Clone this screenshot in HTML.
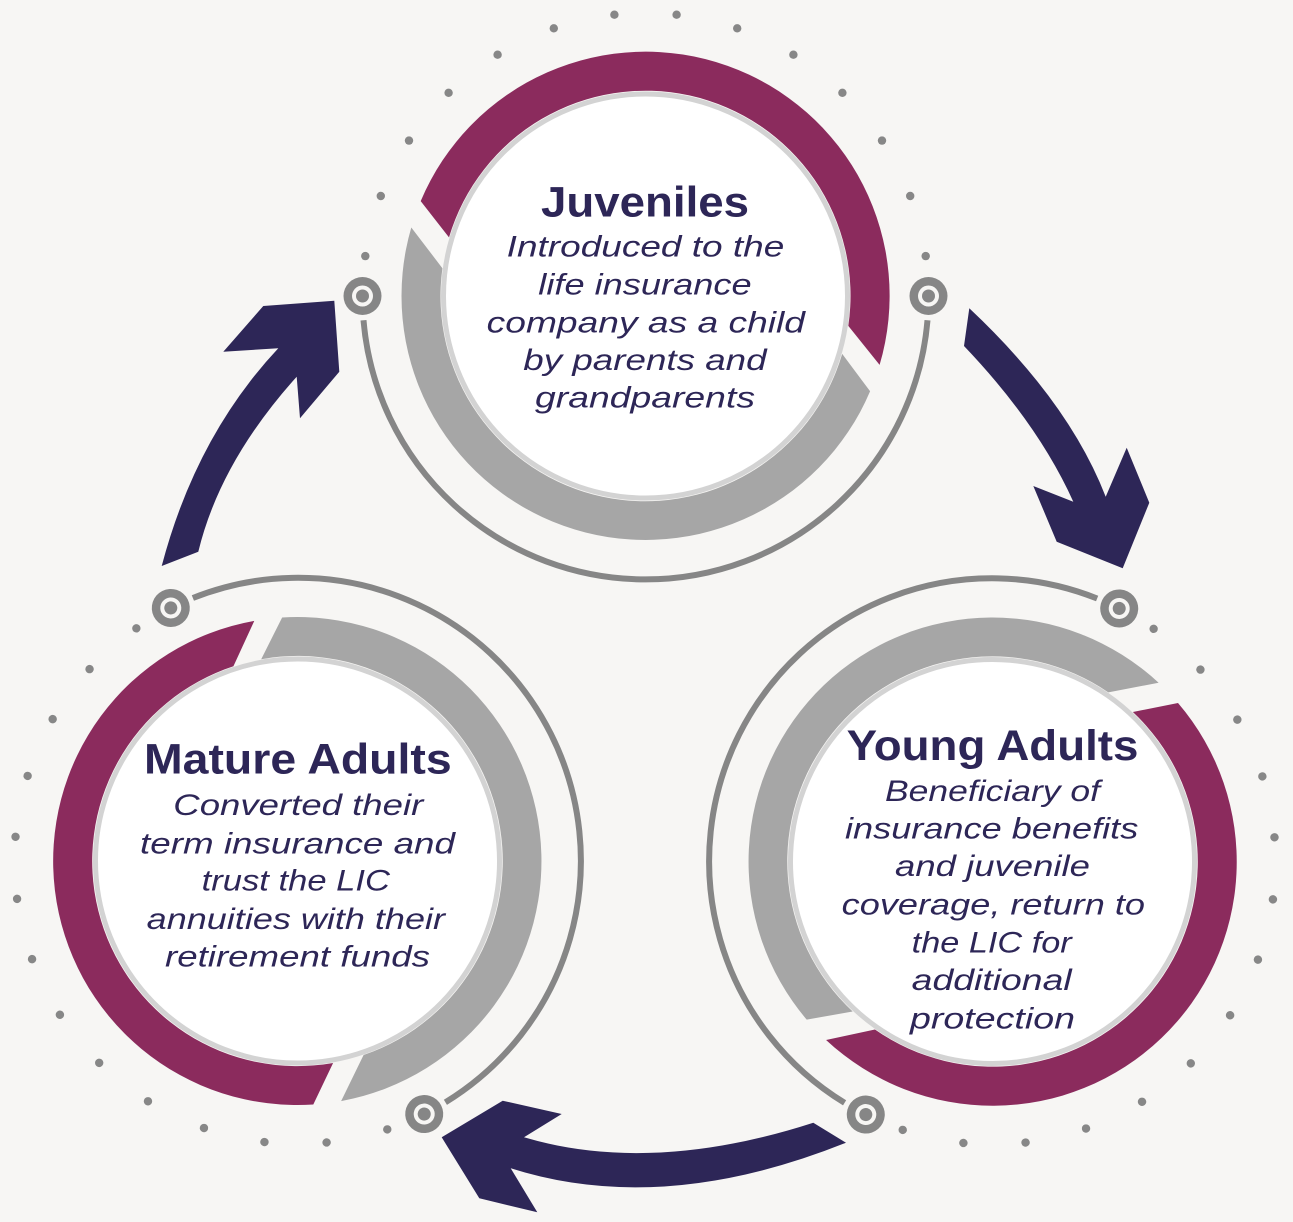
<!DOCTYPE html>
<html>
<head>
<meta charset="utf-8">
<style>
  html, body { margin: 0; padding: 0; background: #f7f6f4; }
  svg { display: block; }
  .t { font-family: "Liberation Sans", Arial, sans-serif; font-weight: bold; font-size: 43px; fill: #2d2657; }
  .b { font-family: "Liberation Sans", Arial, sans-serif; font-style: italic; font-size: 29.5px; fill: #2d2657; }
</style>
</head>
<body>
<svg width="1293" height="1222" viewBox="0 0 1293 1222" xmlns="http://www.w3.org/2000/svg">
  <rect width="1293" height="1222" fill="#f7f6f4"/>

  <!-- ============ TOP GROUP (Juveniles) ============ -->
  <g transform="translate(645.5,296)">
    <g fill="#878787">
      <circle cx="-280.2" cy="-39.9" r="4.2"/>
      <circle cx="-264.7" cy="-100.0" r="4.2"/>
      <circle cx="-236.5" cy="-155.4" r="4.2"/>
      <circle cx="-196.9" cy="-203.2" r="4.2"/>
      <circle cx="-147.9" cy="-241.3" r="4.2"/>
      <circle cx="-91.7" cy="-267.7" r="4.2"/>
      <circle cx="-31.1" cy="-281.3" r="4.2"/>
      <circle cx="31.1" cy="-281.3" r="4.2"/>
      <circle cx="91.7" cy="-267.7" r="4.2"/>
      <circle cx="147.9" cy="-241.3" r="4.2"/>
      <circle cx="196.9" cy="-203.2" r="4.2"/>
      <circle cx="236.5" cy="-155.4" r="4.2"/>
      <circle cx="264.7" cy="-100.0" r="4.2"/>
      <circle cx="280.2" cy="-39.9" r="4.2"/>
    </g>
    <path d="M 282,24.2 A 283 283 0 0 1 -282,24.2" fill="none" stroke="#868686" stroke-width="6"/>
    <circle cx="283" cy="0" r="19" fill="#868686"/><circle cx="283" cy="0" r="10.5" fill="#f7f6f4"/><circle cx="283" cy="0" r="6.5" fill="#868686"/>
    <circle cx="-283" cy="0" r="19" fill="#868686"/><circle cx="-283" cy="0" r="10.5" fill="#f7f6f4"/><circle cx="-283" cy="0" r="6.5" fill="#868686"/>
    <path d="M -224.8,-94.9 A 244 244 0 0 1 234.1,68.9 L 202.8,29.9 A 205 205 0 0 0 -196.5,-58.6 Z" fill="#8b2b5d"/>
    <path d="M -234.2,-68.5 A 244 244 0 0 0 224.6,95.3 L 196.7,57.9 A 205 205 0 0 1 -203.1,-27.8 Z" fill="#a6a6a6"/>
    <circle cx="0" cy="0" r="202" fill="#ffffff" stroke="#d3d3d3" stroke-width="5"/>
  </g>

  <!-- ============ YOUNG ADULTS GROUP ============ -->
  <g transform="translate(992.5,861.5) rotate(116.6)">
    <g fill="#878787">
      <circle cx="-280.2" cy="-39.9" r="4.2"/>
      <circle cx="-264.7" cy="-100.0" r="4.2"/>
      <circle cx="-236.5" cy="-155.4" r="4.2"/>
      <circle cx="-196.9" cy="-203.2" r="4.2"/>
      <circle cx="-147.9" cy="-241.3" r="4.2"/>
      <circle cx="-91.7" cy="-267.7" r="4.2"/>
      <circle cx="-31.1" cy="-281.3" r="4.2"/>
      <circle cx="31.1" cy="-281.3" r="4.2"/>
      <circle cx="91.7" cy="-267.7" r="4.2"/>
      <circle cx="147.9" cy="-241.3" r="4.2"/>
      <circle cx="196.9" cy="-203.2" r="4.2"/>
      <circle cx="236.5" cy="-155.4" r="4.2"/>
      <circle cx="264.7" cy="-100.0" r="4.2"/>
      <circle cx="280.2" cy="-39.9" r="4.2"/>
    </g>
    <path d="M 282,24.2 A 283 283 0 0 1 -282,24.2" fill="none" stroke="#868686" stroke-width="6"/>
    <circle cx="283" cy="0" r="19" fill="#868686"/><circle cx="283" cy="0" r="10.5" fill="#f7f6f4"/><circle cx="283" cy="0" r="6.5" fill="#868686"/>
    <circle cx="-283" cy="0" r="19" fill="#868686"/><circle cx="-283" cy="0" r="10.5" fill="#f7f6f4"/><circle cx="-283" cy="0" r="6.5" fill="#868686"/>
    <path d="M -224.8,-94.9 A 244 244 0 0 1 234.1,68.9 L 202.8,29.9 A 205 205 0 0 0 -196.5,-58.6 Z" fill="#8b2b5d"/>
    <path d="M -234.2,-68.5 A 244 244 0 0 0 224.6,95.3 L 196.7,57.9 A 205 205 0 0 1 -203.1,-27.8 Z" fill="#a6a6a6"/>
    <circle cx="0" cy="0" r="202" fill="#ffffff" stroke="#d3d3d3" stroke-width="5"/>
  </g>

  <!-- ============ MATURE ADULTS GROUP ============ -->
  <g transform="translate(297.5,861) rotate(-116.6)">
    <g fill="#878787">
      <circle cx="-280.2" cy="-39.9" r="4.2"/>
      <circle cx="-264.7" cy="-100.0" r="4.2"/>
      <circle cx="-236.5" cy="-155.4" r="4.2"/>
      <circle cx="-196.9" cy="-203.2" r="4.2"/>
      <circle cx="-147.9" cy="-241.3" r="4.2"/>
      <circle cx="-91.7" cy="-267.7" r="4.2"/>
      <circle cx="-31.1" cy="-281.3" r="4.2"/>
      <circle cx="31.1" cy="-281.3" r="4.2"/>
      <circle cx="91.7" cy="-267.7" r="4.2"/>
      <circle cx="147.9" cy="-241.3" r="4.2"/>
      <circle cx="196.9" cy="-203.2" r="4.2"/>
      <circle cx="236.5" cy="-155.4" r="4.2"/>
      <circle cx="264.7" cy="-100.0" r="4.2"/>
      <circle cx="280.2" cy="-39.9" r="4.2"/>
    </g>
    <path d="M 282,24.2 A 283 283 0 0 1 -282,24.2" fill="none" stroke="#868686" stroke-width="6"/>
    <circle cx="283" cy="0" r="19" fill="#868686"/><circle cx="283" cy="0" r="10.5" fill="#f7f6f4"/><circle cx="283" cy="0" r="6.5" fill="#868686"/>
    <circle cx="-283" cy="0" r="19" fill="#868686"/><circle cx="-283" cy="0" r="10.5" fill="#f7f6f4"/><circle cx="-283" cy="0" r="6.5" fill="#868686"/>
    <path d="M -224.8,-94.9 A 244 244 0 0 1 234.1,68.9 L 202.8,29.9 A 205 205 0 0 0 -196.5,-58.6 Z" fill="#8b2b5d"/>
    <path d="M -234.2,-68.5 A 244 244 0 0 0 224.6,95.3 L 196.7,57.9 A 205 205 0 0 1 -203.1,-27.8 Z" fill="#a6a6a6"/>
    <circle cx="0" cy="0" r="202" fill="#ffffff" stroke="#d3d3d3" stroke-width="5"/>
  </g>

  <!-- ============ ARROWS ============ -->
  <path fill="#2d2657" d="M 161.7,566 Q 196,436 278.3,348.3 L 223.3,351.7 L 263.3,306 L 334.3,300.7 L 339.3,371.7 L 300,418.3 L 296.7,376.7 Q 220,462 198.3,551.7 Z"/>
  <path fill="#2d2657" d="M 969.3,308.3 Q 1069,402 1105.7,496.7 L 1126.7,447.7 L 1149.3,502.7 L 1122.7,568.3 L 1056.7,541.7 L 1033.3,486 L 1073.3,501.7 Q 1038,423.5 964,346 Z"/>
  <path fill="#2d2657" d="M 813.3,1122.7 Q 651.4,1175 524,1137.3 L 561.7,1114 L 502.7,1100.7 L 441.7,1137.3 L 479.3,1198.3 L 537.3,1212.3 L 510.7,1168.3 Q 661.7,1216.5 846,1142.7 Z"/>

  <!-- ============ TEXT: Juveniles ============ -->
  <text class="t" x="541" y="216.7" textLength="208" lengthAdjust="spacingAndGlyphs">Juveniles</text>
  <text class="b" x="506.7" y="256.7" textLength="277.6" lengthAdjust="spacingAndGlyphs">Introduced to the</text>
  <text class="b" x="538.3" y="294.3" textLength="213.3" lengthAdjust="spacingAndGlyphs">life insurance</text>
  <text class="b" x="486.7" y="332.3" textLength="318.3" lengthAdjust="spacingAndGlyphs">company as a child</text>
  <text class="b" x="523.3" y="370" textLength="243.3" lengthAdjust="spacingAndGlyphs">by parents and</text>
  <text class="b" x="535" y="407.7" textLength="220" lengthAdjust="spacingAndGlyphs">grandparents</text>

  <!-- ============ TEXT: Young Adults ============ -->
  <text class="t" x="846.7" y="760" textLength="291.7" lengthAdjust="spacingAndGlyphs">Young Adults</text>
  <text class="b" x="885" y="801" textLength="215" lengthAdjust="spacingAndGlyphs">Beneficiary of</text>
  <text class="b" x="845" y="838.3" textLength="293.3" lengthAdjust="spacingAndGlyphs">insurance benefits</text>
  <text class="b" x="895" y="876" textLength="195" lengthAdjust="spacingAndGlyphs">and juvenile</text>
  <text class="b" x="841.7" y="914.3" textLength="303.3" lengthAdjust="spacingAndGlyphs">coverage, return to</text>
  <text class="b" x="911.7" y="952.3" textLength="160" lengthAdjust="spacingAndGlyphs">the LIC for</text>
  <text class="b" x="911.7" y="990" textLength="160" lengthAdjust="spacingAndGlyphs">additional</text>
  <text class="b" x="910" y="1028.3" textLength="165" lengthAdjust="spacingAndGlyphs">protection</text>

  <!-- ============ TEXT: Mature Adults ============ -->
  <text class="t" x="144" y="773.3" textLength="307.7" lengthAdjust="spacingAndGlyphs">Mature Adults</text>
  <text class="b" x="173.3" y="815" textLength="250" lengthAdjust="spacingAndGlyphs">Converted their</text>
  <text class="b" x="140" y="853.3" textLength="315" lengthAdjust="spacingAndGlyphs">term insurance and</text>
  <text class="b" x="201.7" y="890.7" textLength="188.3" lengthAdjust="spacingAndGlyphs">trust the LIC</text>
  <text class="b" x="146.7" y="929" textLength="298.3" lengthAdjust="spacingAndGlyphs">annuities with their</text>
  <text class="b" x="165" y="966.7" textLength="265" lengthAdjust="spacingAndGlyphs">retirement funds</text>
</svg>
</body>
</html>
